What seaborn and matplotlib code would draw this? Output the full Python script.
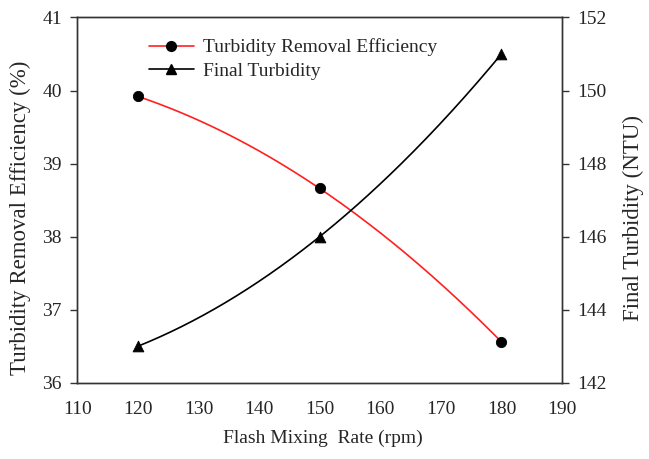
import numpy as np
import pandas as pd
import matplotlib
matplotlib.use("Agg")
import matplotlib.pyplot as plt
from matplotlib.lines import Line2D
import seaborn as sns

# Data
rate = [120, 150, 180]
efficiency = [39.92, 38.66, 36.56]
turbidity = [143.0, 146.0, 151.0]
x_ticks = [110, 120, 130, 140, 150, 160, 170, 180, 190]
left_ticks = [36, 37, 38, 39, 40, 41]
right_ticks = [142, 144, 146, 148, 150, 152]

sns.set_style("white")
plt.rcParams['font.family'] = ['Liberation Serif', 'DejaVu Serif']
plt.rcParams['xtick.direction'] = 'out'
plt.rcParams['ytick.direction'] = 'out'

fig = plt.figure(figsize=(6.49, 4.59), dpi=100)
ax = fig.add_axes([0.119, 0.166, 0.747, 0.796])
ax2 = ax.twinx()

def smooth(xs, ys):
    c = np.polyfit(xs, ys, 2)
    xx = np.linspace(min(xs), max(xs), 200)
    return pd.DataFrame({"x": xx, "y": np.polyval(c, xx)})

s1 = smooth(rate, efficiency)
s2 = smooth(rate, turbidity)
sns.lineplot(data=s1, x="x", y="y", ax=ax, color="#ff2020", lw=1.2)
sns.scatterplot(x=rate, y=efficiency, ax=ax, color="black", marker="o", s=55, edgecolor="black", zorder=5)
sns.lineplot(data=s2, x="x", y="y", ax=ax2, color="black", lw=1.2)
sns.scatterplot(x=rate, y=turbidity, ax=ax2, color="black", marker="^", s=60, edgecolor="black", zorder=5)

ax.set_xlim(110, 190)
ax.set_ylim(36, 41)
ax2.set_ylim(142, 152)
ax.set_xticks(x_ticks)
ax.set_yticks(left_ticks)
ax2.set_yticks(right_ticks)

for a in (ax, ax2):
    for sp in a.spines.values():
        sp.set_color("#333333")
        sp.set_linewidth(1.0)
    a.tick_params(axis="both", labelsize=14, length=5, width=1.0, color="#333333", pad=6)
ax.tick_params(axis="x", pad=8)

ax.set_xlabel("Flash Mixing  Rate (rpm)", fontsize=14)
ax.set_ylabel("Turbidity Removal Efficiency (%)", fontsize=16.5)
ax2.set_ylabel("Final Turbidity (NTU)", fontsize=16.5)
ax.xaxis.set_label_coords(0.506, -0.128)
ax.yaxis.set_label_coords(-0.096, 0.452)
ax2.yaxis.set_label_coords(1.126, 0.45)

handles = [
    Line2D([0], [0], color="#ff2020", lw=1.2, marker="o", markerfacecolor="black", markeredgecolor="black", markersize=7),
    Line2D([0], [0], color="black", lw=1.2, marker="^", markerfacecolor="black", markeredgecolor="black", markersize=7),
]
ax.legend(handles, ["Turbidity Removal Efficiency", "Final Turbidity"], loc="upper left",
          bbox_to_anchor=(0.112, 0.99), frameon=False, fontsize=14, handlelength=2.3,
          labelspacing=0.3, handletextpad=0.45)

fig.savefig("out.png", dpi=100)
